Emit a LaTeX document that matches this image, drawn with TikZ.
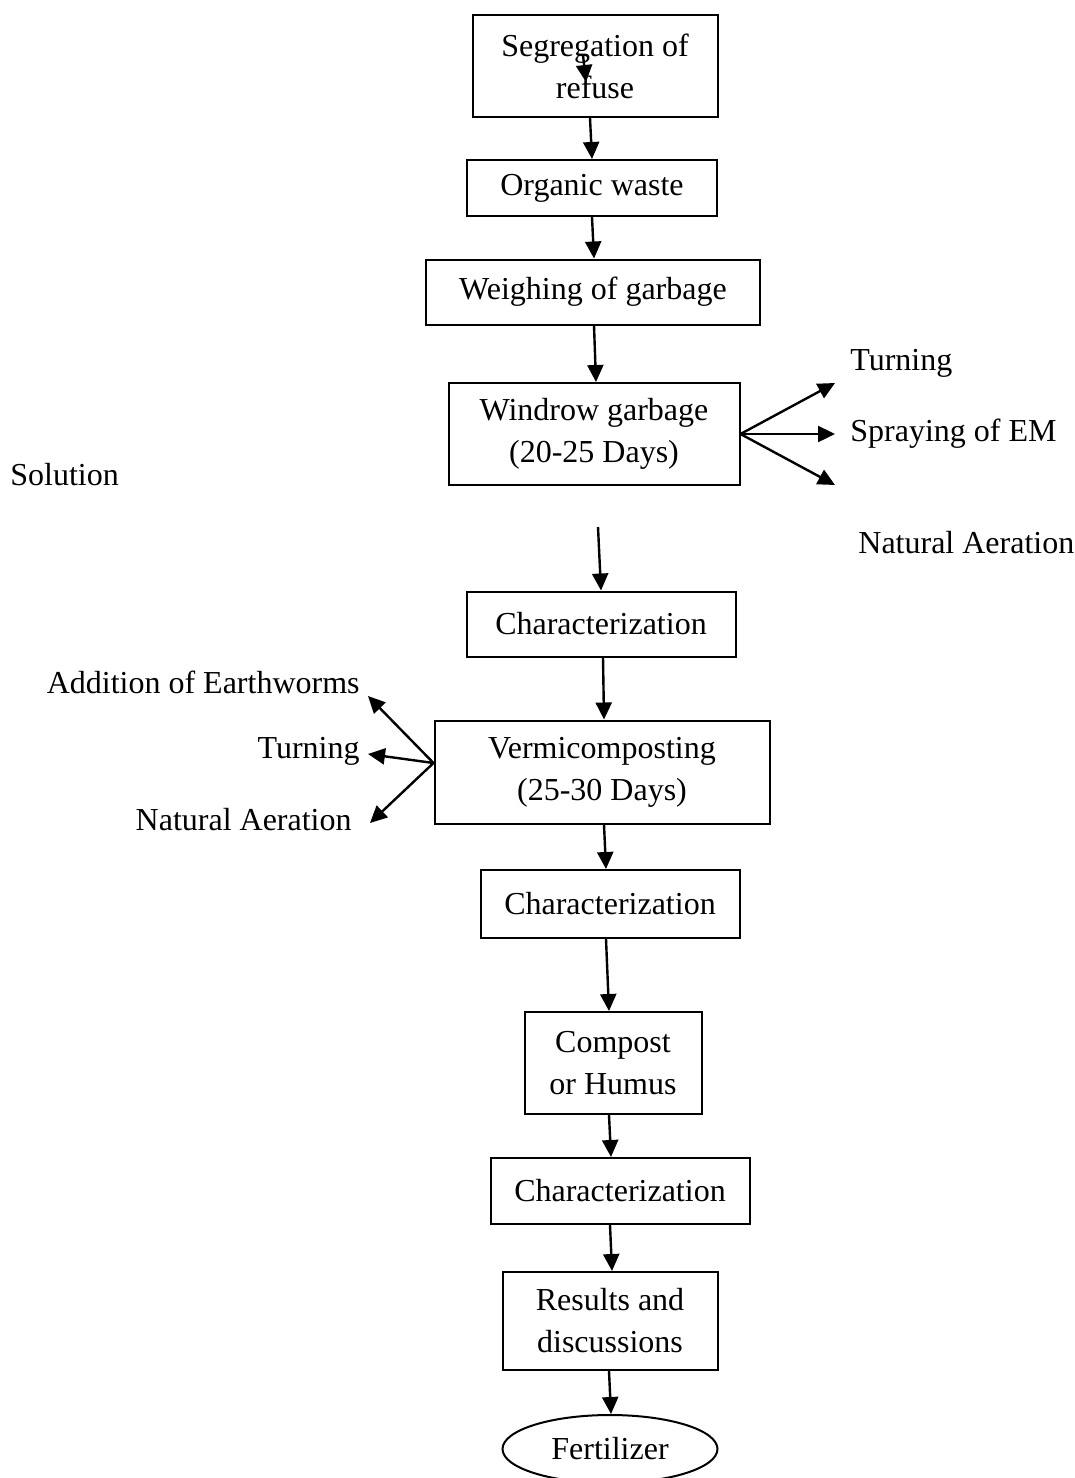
\documentclass[tikz,border=0pt]{standalone}
\usepackage{fontspec}
\setmainfont{Liberation Serif}
\usetikzlibrary{arrows.meta,shapes.geometric}

\begin{document}
\begin{tikzpicture}[x=0.5pt,y=-0.5pt,
	box/.style={draw,black,line width=1pt,align=center,inner sep=0pt,font=\fontsize{16}{21}\selectfont},
	arr/.style={black,line width=1.2pt,-{Triangle[length=8.5pt,width=8pt]}},
	lbl/.style={inner sep=0pt,font=\fontsize{16}{21}\selectfont}]
\useasboundingbox (0,0) rectangle (1075,1478);

\node[box,minimum width=122.5pt,minimum height=51pt] (S) at (595,66) {Segregation of\\refuse};
\node[box,minimum width=125pt,minimum height=28pt] (O) at (592,188) {Organic waste};
\node[box,minimum width=167pt,minimum height=32.5pt] (G) at (593,292) {Weighing of garbage};
\node[box,minimum width=145.5pt,minimum height=51pt] (W) at (594,434) {Windrow garbage\\(20-25 Days)};
\node[box,minimum width=134.5pt,minimum height=32.5pt] (C1) at (601,624) {Characterization};
\node[box,minimum width=167.5pt,minimum height=51.5pt] (V) at (602,772) {Vermicomposting\\(25-30 Days)};
\node[box,minimum width=129.5pt,minimum height=34pt] (C2) at (610,904) {Characterization};
\node[box,minimum width=88.5pt,minimum height=51pt] (H) at (613,1063) {Compost\\or Humus};
\node[box,minimum width=129.5pt,minimum height=33pt] (C3) at (620,1191) {Characterization};
\node[box,minimum width=107.5pt,minimum height=49pt] (R) at (610,1321) {Results and\\discussions};
\node[box,ellipse,minimum width=107.5pt,minimum height=34pt] (F) at (610,1449) {Fertilizer};

% side labels
\node[lbl,anchor=west] (T1) at (850,363) {Turning};
\node[lbl,anchor=west] (E) at (850,434) {Spraying of EM};
\node[lbl,anchor=west] (N1) at (858,543) {Natural Aeration};
\node[lbl,anchor=west] (Sol) at (10,475) {Solution};
\node[lbl,anchor=east] (A) at (360,682) {Addition of Earthworms};
\node[lbl,anchor=east] (T2) at (360,751) {Turning};
\node[lbl,anchor=east] (N2) at (352,820) {Natural Aeration};

\coordinate (s1) at (583,55);
\coordinate (s2) at (586,82);
\coordinate (w0) at (598,527);
\coordinate (r1) at (835,383);
\coordinate (r2) at (835,434);
\coordinate (r3) at (835,485);
\coordinate (l1) at (368,696);
\coordinate (l2) at (368,754);
\coordinate (l3) at (370,823);

% main flow
\draw[arr] (s1) -- (s2);
\draw[arr] ([xshift=-2.5pt]S.south) -- (O.north);
\draw[arr] (O.south) -- ([xshift=0.5pt]G.north);
\draw[arr] ([xshift=0.5pt]G.south) -- ([xshift=1pt]W.north);
\draw[arr] (w0) -- (C1.north);
\draw[arr] ([xshift=1pt]C1.south) -- ([xshift=1pt]V.north);
\draw[arr] ([xshift=1pt]V.south) -- ([xshift=-2pt]C2.north);
\draw[arr] ([xshift=-2pt]C2.south) -- ([xshift=-2pt]H.north);
\draw[arr] ([xshift=-2pt]H.south) -- ([xshift=-4.5pt]C3.north);
\draw[arr] ([xshift=-5pt]C3.south) -- ([xshift=1pt]R.north);
\draw[arr] ([xshift=-0.5pt]R.south) -- ([xshift=0.5pt]F.north);

% branches
\draw[arr] (W.east) -- (r1);
\draw[arr] (W.east) -- (r2);
\draw[arr] (W.east) -- (r3);
\draw[arr] ([yshift=4.5pt]V.west) -- (l1);
\draw[arr] ([yshift=4.5pt]V.west) -- (l2);
\draw[arr] ([yshift=4.5pt]V.west) -- (l3);

\end{tikzpicture}
\end{document}
